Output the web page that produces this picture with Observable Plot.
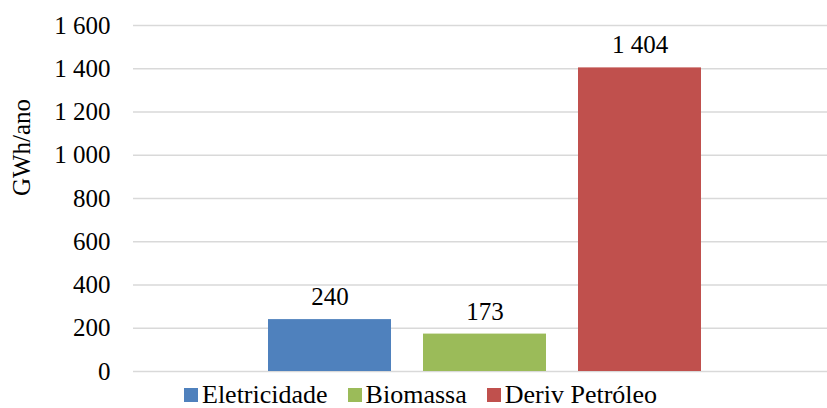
<!DOCTYPE html>
<html>
<head>
<meta charset="utf-8">
<script src="https://cdn.jsdelivr.net/npm/d3@7"></script>
<script src="https://cdn.jsdelivr.net/npm/@observablehq/plot@0.6"></script>
<style>
  html body #wrap, html body #wrap *, html body #wrap svg text { font-family: 'Liberation Serif', serif !important; }
  .legend { position: absolute; left: 184px; top: 382px; display: flex; align-items: center; font-size: 26px; line-height: 26px; height: 26px; color: #000; white-space: nowrap; }
  .legend .item { display: inline-flex; align-items: center; margin-right: 20px; }
  .legend .sw { width: 14px; height: 14px; display: inline-block; margin-right: 4px; }
</style>
</head>
<body style="margin:0;background:#fff;font-family:'Liberation Serif', serif">
<div id="wrap" style="width:827px;height:408px;position:relative;font-family:'Liberation Serif', serif"></div>
<script>
const categories = ["Eletricidade", "Biomassa", "Deriv Petróleo"];
const values = [240, 173, 1404];
const colors = ["#4F81BD", "#9BBB59", "#C0504D"];
const yTicks = [0, 200, 400, 600, 800, 1000, 1200, 1400, 1600];
const yLabel = "GWh/ano";

const FONT = "Liberation Serif";
const data = categories.map((c, i) => ({ cat: c, value: values[i] }));
const fmt = v => d3.format(",")(v).replace(/,/g, " ");

const plot = Plot.plot({
  width: 827,
  height: 386,
  marginTop: 25,
  marginBottom: 15,
  marginLeft: 133,
  marginRight: 0,
  style: { fontFamily: FONT, fontSize: "25px", color: "#000", background: "transparent", overflow: "visible" },
  x: { domain: categories, range: [235, 733.5], padding: 0.206, axis: null },
  y: { domain: [0, 1600], ticks: yTicks, tickFormat: fmt, label: null },
  color: { domain: categories, range: colors },
  marks: [
    Plot.ruleY(yTicks, { stroke: "#d9d9d9", strokeWidth: 1.3 }),
    Plot.axisY({ ticks: yTicks, tickFormat: fmt, tickSize: 0, tickPadding: 23, fontSize: 25, fontFamily: FONT, fill: "#000", label: null }),
    Plot.barY(data, { x: "cat", y: "value", fill: "cat" }),
    Plot.text(data, { x: "cat", y: "value", text: d => fmt(d.value), dy: -22.5, fontSize: 25, fontFamily: FONT, fill: "#000" }),
    Plot.text([yLabel], { frameAnchor: "left", textAnchor: "middle", dx: -112, dy: -51, rotate: -90, fontSize: 25, fontFamily: FONT, fill: "#000" })
  ]
});
document.getElementById("wrap").appendChild(plot);

const legend = document.createElement("div");
legend.className = "legend";
categories.forEach((c, i) => {
  const item = document.createElement("span");
  item.className = "item";
  const sw = document.createElement("span");
  sw.className = "sw";
  sw.style.background = colors[i];
  item.appendChild(sw);
  const t = document.createElement("span");
  t.textContent = c;
  item.appendChild(t);
  legend.appendChild(item);
});
document.getElementById("wrap").appendChild(legend);
</script>
</body>
</html>
